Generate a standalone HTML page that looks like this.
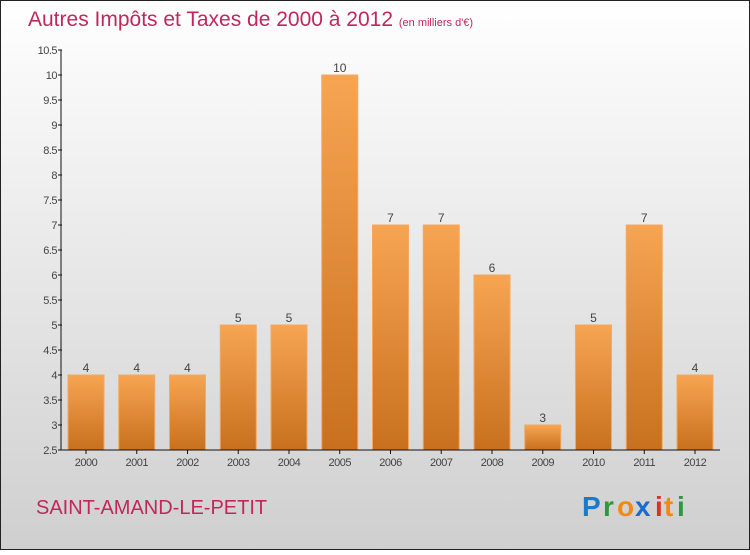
<!DOCTYPE html>
<html><head><meta charset="utf-8"><style>
body{margin:0;width:750px;height:550px;overflow:hidden;font-family:"Liberation Sans",sans-serif}
</style></head><body>
<svg width="750" height="550" xmlns="http://www.w3.org/2000/svg">
<defs>
<linearGradient id="bg" x1="0" y1="0" x2="0" y2="1"><stop offset="0" stop-color="#ffffff"/><stop offset="1" stop-color="#cfcfcf"/></linearGradient>
<linearGradient id="bar" x1="0" y1="0" x2="0" y2="1"><stop offset="0" stop-color="#f7a552"/><stop offset="1" stop-color="#c8701e"/></linearGradient>
</defs>
<rect x="0.5" y="0.5" width="749" height="549" fill="url(#bg)" stroke="#222"/>
<text x="28" y="26" font-size="21" fill="#c0285a">Autres Impôts et Taxes de 2000 à 2012 <tspan font-size="11">(en milliers d'€)</tspan></text>
<g id="yaxis"></g>
<g id="bars"></g>
<g id="xaxis"></g>
<text x="36" y="514" font-size="20" fill="#c0285a">SAINT-AMAND-LE-PETIT</text>
<g font-size="28" font-weight="bold">
<text x="582" y="516" fill="#1a7ad0">P</text><text x="603" y="516" fill="#2a9a3a">r</text><text x="617" y="516" fill="#f08a10">o</text><text x="635" y="516" fill="#1a6ad0">x</text><text x="655" y="516" fill="#e03020">i</text><text x="664" y="516" fill="#f08a10">t</text><text x="677" y="516" fill="#2a9a3a">i</text>
</g>
</svg>
<script>
const categories=["2000","2001","2002","2003","2004","2005","2006","2007","2008","2009","2010","2011","2012"];
const values=[4,4,4,5,5,10,7,7,6,3,5,7,4];
const yTicks=["2.5","3","3.5","4","4.5","5","5.5","6","6.5","7","7.5","8","8.5","9","9.5","10","10.5"];
const NS="http://www.w3.org/2000/svg";
const y=v=>450-(v-2.5)*50;
const x=i=>86+i*50.75;
function mk(tag,attrs,parent,txt){const e=document.createElementNS(NS,tag);for(const k in attrs)e.setAttribute(k,attrs[k]);if(txt!=null)e.textContent=txt;parent.appendChild(e);return e;}
const ya=document.getElementById('yaxis'),ba=document.getElementById('bars'),xa=document.getElementById('xaxis');
mk('line',{x1:61,y1:50,x2:61,y2:450,stroke:'#111'},ya);
yTicks.forEach(t=>{const v=parseFloat(t);
 mk('line',{x1:58,y1:y(v),x2:62,y2:y(v),stroke:'#111'},ya);
 const l=mk('text',{x:57,y:y(v)+4,'font-size':11,'text-anchor':'end',fill:'#444','letter-spacing':'-0.5'},ya,t);
 
 
});
values.forEach((v,i)=>{
 const r=mk('rect',{x:x(i)-18,y:y(v),width:36,height:450-y(v),fill:'url(#bar)',stroke:'#f4a860','stroke-width':1},ba);
 
 
 const t=mk('text',{x:x(i),y:y(v)-3,'font-size':12,'text-anchor':'middle',fill:'#444'},ba,String(v));
 
 
});
mk('line',{x1:61,y1:450,x2:720,y2:450,stroke:'#111'},xa);
categories.forEach((c,i)=>{
 mk('line',{x1:x(i),y1:450,x2:x(i),y2:454,stroke:'#111'},xa);
 const t=mk('text',{x:x(i),y:466,'font-size':11,'text-anchor':'middle',fill:'#444','letter-spacing':'-0.5'},xa,c);
 
 
});
</script>
</body></html>
